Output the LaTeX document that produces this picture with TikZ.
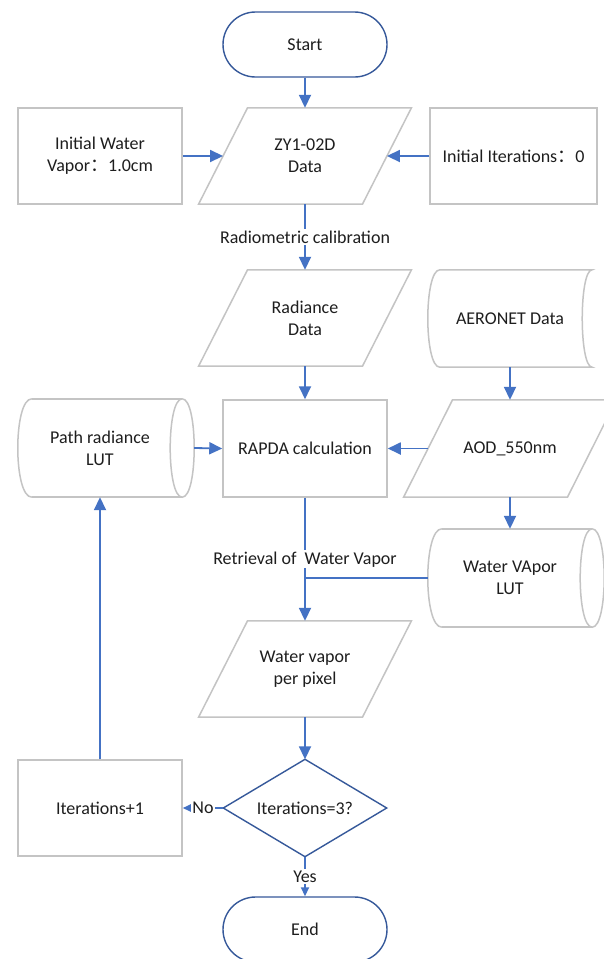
\documentclass[tikz,border=0pt]{standalone}
\usepackage{fontspec}
\setmainfont{Carlito}
\newfontfamily\cjk{Noto Sans CJK SC}
\usetikzlibrary{shapes.misc,arrows.meta}
\definecolor{connc}{HTML}{4472C4}
\definecolor{grayb}{HTML}{C4C4C4}
\definecolor{termb}{HTML}{36599A}
\definecolor{txtc}{HTML}{1E1E1E}
\newcommand\parashape[1]{\draw[grayline] ([xshift=24.5pt]#1.north west) -- ([xshift=24.5pt]#1.north east) -- ([xshift=-24.5pt]#1.south east) -- ([xshift=-24.5pt]#1.south west) -- cycle;}
\newcommand\lutshape[1]{%
  \draw[grayline] ([xshift=14pt]#1.north west) -- (#1.north east) ([xshift=14pt]#1.south west) -- (#1.south east);
  \draw[grayline] (#1.north east) .. controls ([xshift=16pt]#1.north east) and ([xshift=16pt]#1.south east) .. (#1.south east)
     .. controls ([xshift=-16pt]#1.south east) and ([xshift=-16pt]#1.north east) .. (#1.north east);
  \draw[grayline] ([xshift=14pt]#1.north west) .. controls ([xshift=-4.7pt]#1.north west) and ([xshift=-4.7pt]#1.south west) .. ([xshift=14pt]#1.south west);}
\newcommand\storedshape[1]{%
  \draw[grayline] ([xshift=12pt]#1.north west) -- (#1.north east)
     .. controls ([xshift=-13.3pt]#1.north east) and ([xshift=-13.3pt]#1.south east) .. (#1.south east)
     -- ([xshift=12pt]#1.south west)
     .. controls ([xshift=-4pt]#1.south west) and ([xshift=-4pt]#1.north west) .. ([xshift=12pt]#1.north west);}
\begin{document}
\begin{tikzpicture}[x=1pt,y=-1pt,
  every node/.style={font=\fontsize{18}{22}\selectfont, text=txtc, align=center, inner sep=0pt},
  boxn/.style={draw=grayb, line width=1.5pt, minimum width=#1, minimum height=96pt},
  ghost/.style={minimum width=163.5pt, minimum height=#1},
  term/.style={rounded rectangle, draw=termb, line width=1.4pt, minimum width=164pt, minimum height=65pt},
  grayline/.style={draw=grayb, line width=1.5pt},
  termline/.style={draw=termb, line width=1.4pt},
  conn/.style={draw=connc, line width=1.8pt, -{Triangle[length=13pt,width=12pt]}},
  connsm/.style={draw=connc, line width=1.8pt, -{Triangle[length=9pt,width=8pt]}},
  plainc/.style={draw=connc, line width=1.8pt},
  lbl/.style={fill=white, inner sep=1.5pt}
]
\path[use as bounding box] (0,0) rectangle (603,959);
\fill[white] (0,0) rectangle (603,959);

% nodes
\node[term] (start) at (305,44.5) {Start};
\node[ghost=96pt] (zy) at (305,156) {ZY1-02D\\Data};
\node[boxn=164pt] (iw) at (100,156) {Initial Water\\Vapor{\cjk ：}1.0cm};
\node[boxn=167pt] (ii) at (513.5,156) {Initial Iterations{\cjk ：}0};
\node[ghost=96pt] (rad) at (305,318) {Radiance\\Data};
\node[minimum width=164pt, minimum height=97pt] (aer) at (510,318.5) {AERONET Data};
\node[boxn=164pt, minimum height=97pt] (rapda) at (305,448.5) {RAPDA calculation};
\node[ghost=97pt] (aod) at (510,448.5) {AOD\_550nm};
\node[minimum width=164pt, minimum height=98pt] (plut) at (100,448) {Path radiance\\LUT};
\node[minimum width=164pt, minimum height=98pt] (wvlut) at (510,578) {Water VApor\\LUT};
\node[ghost=96pt] (wvpp) at (305,669) {Water vapor\\per pixel};
\node[minimum width=163pt, minimum height=97pt] (dec) at (305,808) {Iterations=3?};
\node[boxn=164pt] (iter) at (100,808) {Iterations+1};
\node[term] (end) at (305,929.5) {End};

% shapes
\parashape{zy}
\parashape{rad}
\parashape{aod}
\parashape{wvpp}
\storedshape{aer}
\lutshape{plut}
\lutshape{wvlut}
\draw[termline] (dec.north) -- (dec.east) -- (dec.south) -- (dec.west) -- cycle;

% connectors
\draw[conn] (start.south) -- (zy.north);
\draw[conn] (iw.east) -- (zy.west);
\draw[conn] (ii.west) -- (zy.east);
\draw[conn] (zy.south) -- node[lbl] {Radiometric calibration} (rad.north);
\draw[conn] (rad.south) -- (rapda.north);
\draw[conn] (aer.south) -- (aod.north);
\draw[conn] (aod.west) -- (rapda.east);
\draw[conn] ([xshift=12pt]plut.east) -- (rapda.west);
\draw[conn] (aod.south) -- (wvlut.north);
\draw[conn] (rapda.south) -- node[lbl] {Retrieval of\ \ Water Vapor} (wvpp.north);
\draw[plainc] (wvlut.west) -- (wvlut.west -| rapda.south);
\draw[conn] (wvpp.south) -- (dec.north);
\draw[connsm] (dec.west) -- node[lbl] {No} (iter.east);
\draw[connsm] (dec.south) -- node[lbl] {Yes} (end.north);
\draw[conn] (iter.north) -- (plut.south);
\end{tikzpicture}
\end{document}
